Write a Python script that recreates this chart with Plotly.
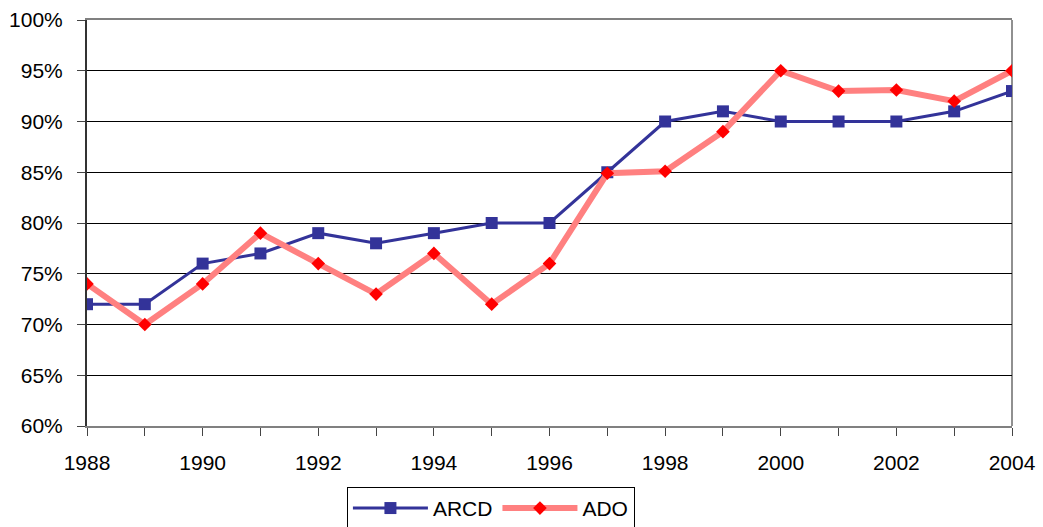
import plotly.graph_objects as go

years = list(range(1988, 2005))
arcd = [72, 72, 76, 77, 79, 78, 79, 80, 80, 85, 90, 91, 90, 90, 90, 91, 93]
ado = [74, 70, 74, 79, 76, 73, 77, 72, 76, 84.9, 85.1, 89, 95, 93, 93.1, 92, 95]
y_ticks = [60, 65, 70, 75, 80, 85, 90, 95, 100]
y_labels = [f"{v}%" for v in y_ticks]
x_ticks = list(range(1988, 2005, 2))

fig = go.Figure()
fig.add_trace(go.Scatter(
    x=years, y=arcd, name="ARCD", mode="lines+markers",
    line=dict(color="#333399", width=3),
    marker=dict(symbol="square", size=12, color="#333399"),
))
fig.add_trace(go.Scatter(
    x=years, y=ado, name="ADO", mode="lines+markers",
    line=dict(color="#FF8080", width=6),
    marker=dict(symbol="diamond", size=10.5, color="#FF0000"),
))

font = dict(family="Liberation Sans, Arial, sans-serif", size=21, color="black")

fig.update_layout(
    width=1043, height=527,
    margin=dict(l=87, r=31, t=20, b=101, autoexpand=False),
    paper_bgcolor="white", plot_bgcolor="white",
    font=font,
    showlegend=True,
    legend=dict(
        orientation="h", x=0.281, y=-0.15, xanchor="left", yanchor="top",
        bordercolor="black", borderwidth=1, font=font,
        itemwidth=75,
    ),
    xaxis=dict(
        range=[1988, 2004], tickvals=x_ticks, ticktext=[str(v) for v in x_ticks],
        ticks="outside", ticklen=8, tickcolor="#444", tickwidth=1,
        minor=dict(dtick=1, tick0=1988, ticks="outside", ticklen=8, tickcolor="#444", showgrid=False),
        showgrid=False, zeroline=False,
        showline=True, linecolor="#808080", linewidth=2, mirror=True,
        ticklabelstandoff=9,
    ),
    yaxis=dict(
        range=[60, 100], tickvals=y_ticks, ticktext=y_labels,
        ticks="outside", ticklen=8, tickcolor="#444", tickwidth=1,
        showgrid=True, gridcolor="black", gridwidth=1, zeroline=False,
        showline=True, linecolor="#333", linewidth=2,
        ticklabelstandoff=10,
    ),
    shapes=[dict(type="line", xref="paper", yref="paper", x0=1, x1=1, y0=0, y1=1,
                 line=dict(color="#909090", width=2), layer="between")],
)

fig.write_html("out.html")
